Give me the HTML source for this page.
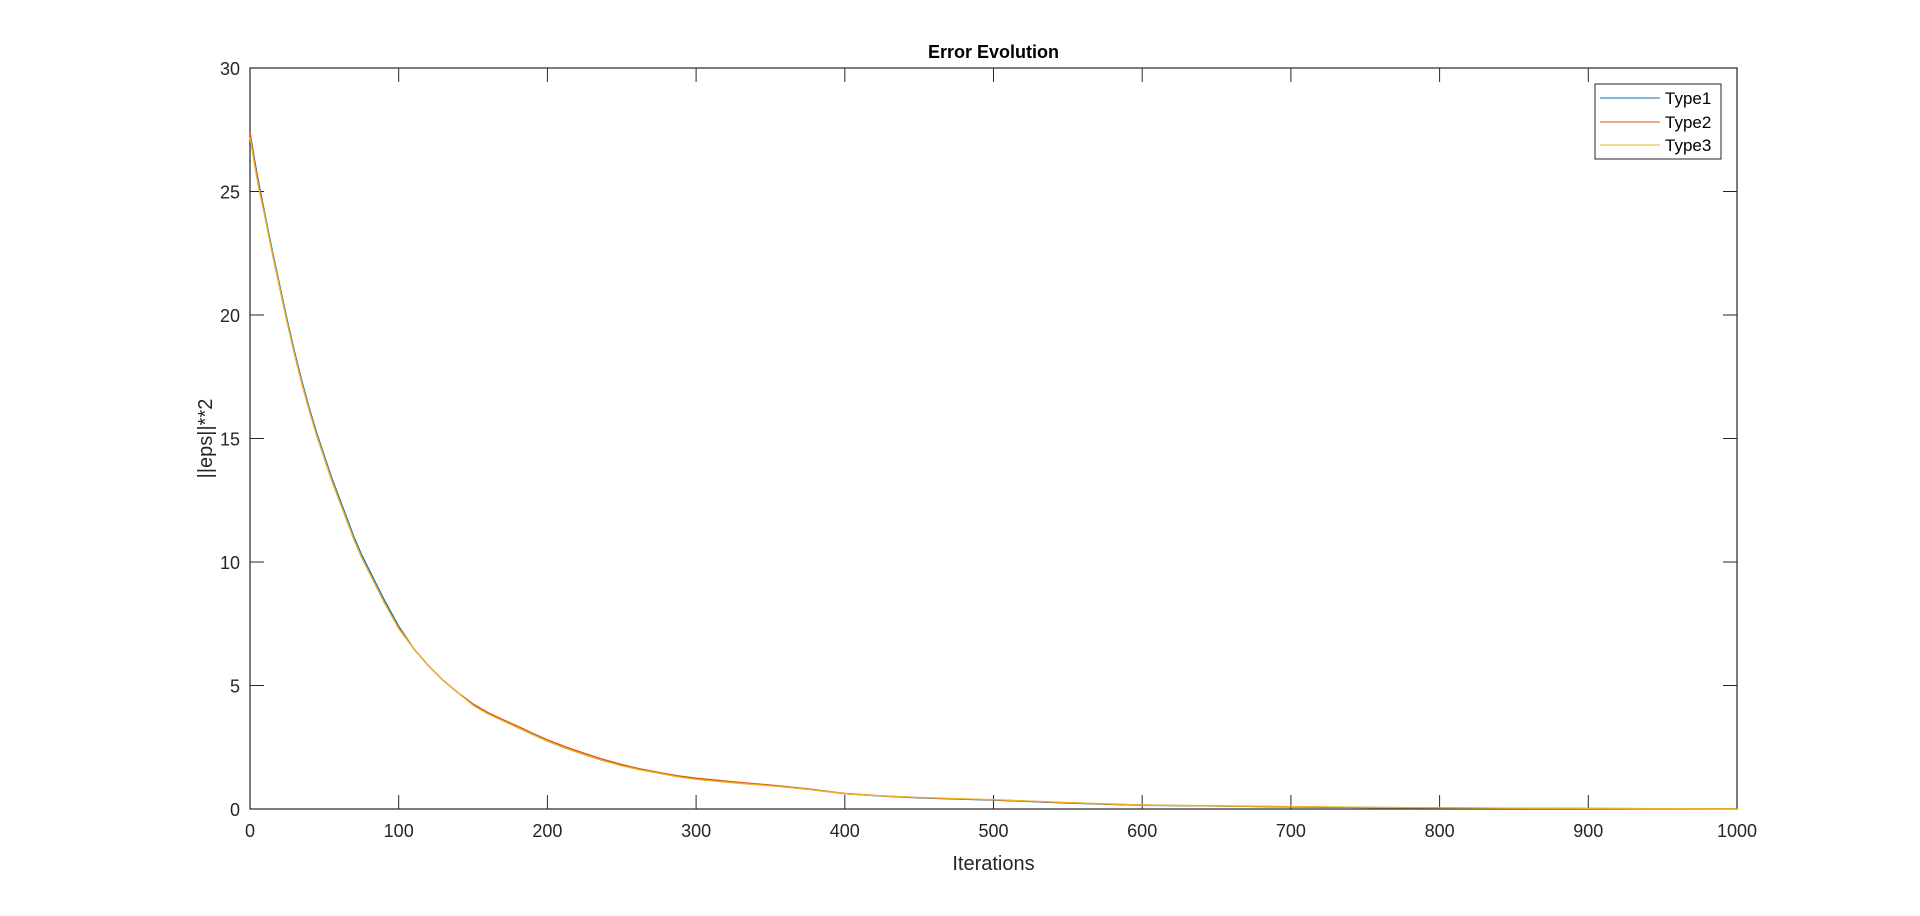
<!DOCTYPE html>
<html><head><meta charset="utf-8"><style>
body{margin:0;background:#fff;width:1920px;height:911px;overflow:hidden}
text{font-family:"Liberation Sans",sans-serif;fill:#262626}
</style></head><body>
<svg id="chart" width="1920" height="911" xmlns="http://www.w3.org/2000/svg">
<rect width="1920" height="911" fill="#fff"/>
<g id="axes"></g>
<g id="series"></g>
<text x="993.5" y="58" font-size="18" font-weight="bold" text-anchor="middle" style="fill:#000">Error Evolution</text>
<text x="993.5" y="870" font-size="20" text-anchor="middle">Iterations</text>
<text transform="translate(212,438.5) rotate(-90)" font-size="20" text-anchor="middle">||eps||**2</text>
<g>
<rect x="1595" y="84" width="126" height="75" fill="#fff" stroke="#262626" stroke-width="1"/>
<line x1="1600" y1="98" x2="1660" y2="98" stroke="#0072BD" stroke-width="1"/>
<text x="1665" y="104" font-size="17" style="fill:#000">Type1</text>
<line x1="1600" y1="122" x2="1660" y2="122" stroke="#D95319" stroke-width="1"/>
<text x="1665" y="128" font-size="17" style="fill:#000">Type2</text>
<line x1="1600" y1="145" x2="1660" y2="145" stroke="#EDB120" stroke-width="1"/>
<text x="1665" y="151" font-size="17" style="fill:#000">Type3</text>
</g>
</svg>
<script>
const iterations=[0,3,6,10,15,20,25,30,35,40,45,50,55,60,65,70,75,80,85,90,95,100,110,120,130,140,150,160,170,180,190,200,212,225,237,250,262,275,287,300,325,350,375,400,425,450,475,500,550,600,650,700,750,800,850,900,950,1000];
const type1=[27.4,26.3,25.3,24.1,22.6,21.2,19.8,18.5,17.3,16.2,15.2,14.3,13.4,12.6,11.8,11.0,10.3,9.7,9.1,8.5,7.95,7.4,6.5,5.8,5.2,4.7,4.25,3.9,3.6,3.3,3.02,2.75,2.47,2.2,1.97,1.76,1.6,1.45,1.32,1.22,1.08,0.95,0.8,0.62,0.52,0.45,0.4,0.36,0.24,0.15,0.12,0.08,0.06,0.04,0.03,0.02,0.015,0.01];
const type2=[27.4,26.2,25.2,24.0,22.5,21.1,19.7,18.4,17.2,16.1,15.1,14.2,13.3,12.5,11.7,10.9,10.2,9.6,9.0,8.4,7.85,7.35,6.5,5.8,5.2,4.7,4.25,3.9,3.62,3.35,3.07,2.8,2.52,2.25,2.02,1.8,1.63,1.48,1.35,1.25,1.1,0.97,0.82,0.63,0.53,0.46,0.41,0.37,0.25,0.16,0.12,0.09,0.06,0.045,0.03,0.02,0.015,0.01];
const type3=[27.2,26.1,25.1,24.0,22.5,21.1,19.7,18.4,17.2,16.1,15.1,14.2,13.3,12.5,11.7,10.9,10.2,9.6,9.0,8.4,7.85,7.3,6.5,5.8,5.2,4.7,4.2,3.85,3.57,3.3,3.02,2.75,2.47,2.2,1.97,1.75,1.59,1.45,1.31,1.2,1.06,0.94,0.8,0.62,0.53,0.47,0.42,0.38,0.26,0.16,0.13,0.1,0.07,0.05,0.035,0.025,0.015,0.01];
const xTicks=[0,100,200,300,400,500,600,700,800,900,1000];
const yTicks=[0,5,10,15,20,25,30];
const L=250,R=1737,T=68,B=809;
const X=v=>L+(v/1000)*(R-L), Y=v=>B-(v/30)*(B-T);
const NS="http://www.w3.org/2000/svg";
const ax=document.getElementById('axes'), sg=document.getElementById('series');
function mk(tag,attrs,parent){const e=document.createElementNS(NS,tag);for(const k in attrs)e.setAttribute(k,attrs[k]);parent.appendChild(e);return e;}
const box=mk('rect',{x:L,y:T,width:R-L,height:B-T,fill:'none',stroke:'#262626','stroke-width':1.2},ax);


xTicks.forEach(t=>{const x=X(t);
 mk('line',{x1:x,y1:B,x2:x,y2:B-14,stroke:'#262626'},ax);
 mk('line',{x1:x,y1:T,x2:x,y2:T+14,stroke:'#262626'},ax);
 const tx=mk('text',{x:x,y:B+28,'font-size':18,'text-anchor':'middle'},ax);tx.textContent=t;
 
 });
yTicks.forEach(t=>{const y=Y(t);
 mk('line',{x1:L,y1:y,x2:L+14,y2:y,stroke:'#262626'},ax);
 mk('line',{x1:R,y1:y,x2:R-14,y2:y,stroke:'#262626'},ax);
 const tx=mk('text',{x:L-10,y:y+7,'font-size':18,'text-anchor':'end'},ax);tx.textContent=t;
 
 });
[[type1,'#0072BD','type1-line'],[type2,'#D95319','type2-line'],[type3,'#EDB120','type3-line']].forEach(([d,c,n])=>{
 const p=mk('polyline',{points:iterations.map((v,i)=>X(v)+','+Y(d[i])).join(' '),fill:'none',stroke:c,'stroke-width':1.3,'stroke-linejoin':'round'},sg);
 
 });
</script>
</body></html>
